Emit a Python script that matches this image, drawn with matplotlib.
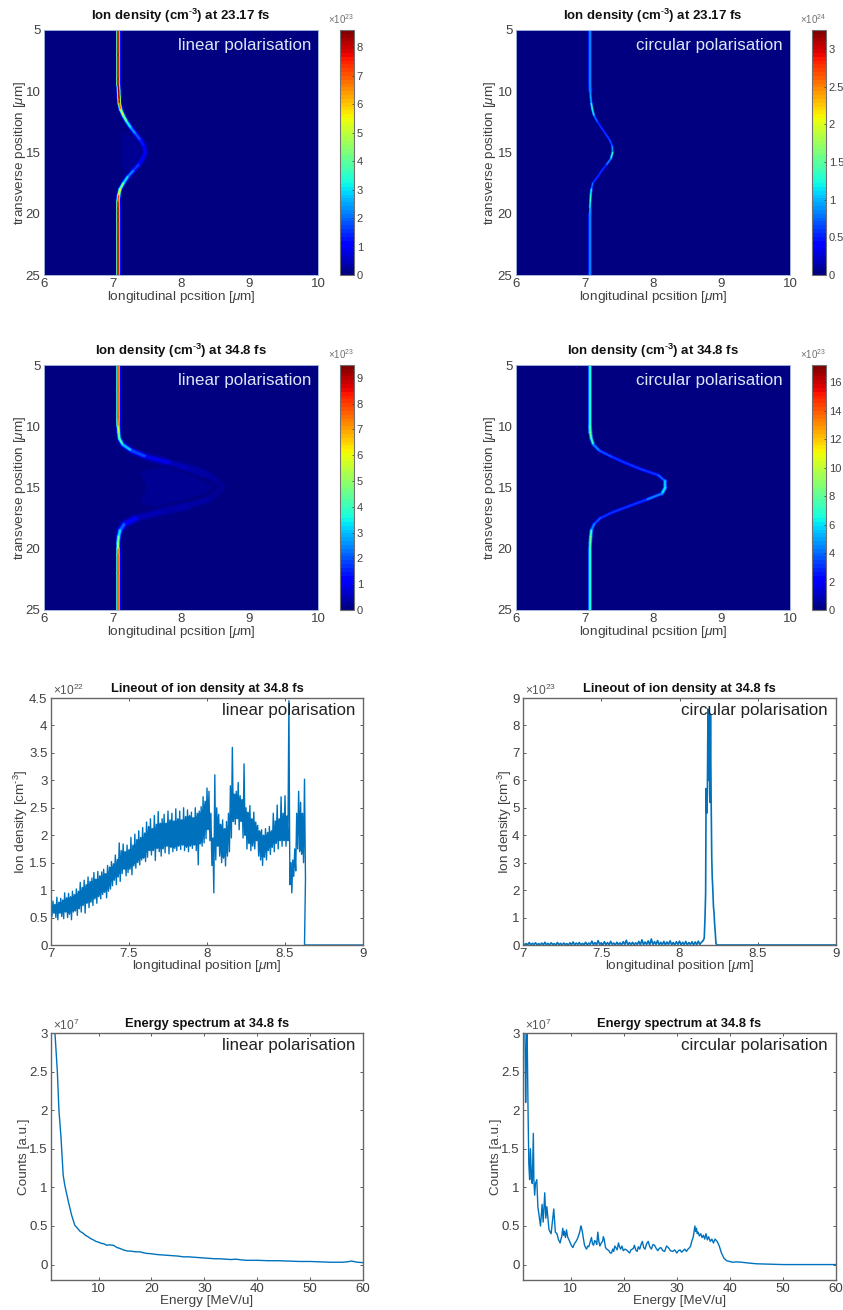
import numpy as np
import matplotlib
matplotlib.use("Agg")
import matplotlib.pyplot as plt
from matplotlib.cm import ScalarMappable
from matplotlib.collections import LineCollection
from matplotlib.colors import Normalize

plt.rcParams['font.family'] = ['Liberation Sans', 'DejaVu Sans']
plt.rcParams['mathtext.fontset'] = 'custom'
plt.rcParams['mathtext.rm'] = 'Liberation Sans'
plt.rcParams['mathtext.it'] = 'Liberation Sans:italic'
plt.rcParams['mathtext.bf'] = 'Liberation Sans:bold'

W, H = 843, 1310
DARK = '#404040'
BLUE = '#0072BD'

# ridge of the target in the density maps, transverse position in um
ridge_y = [5, 7, 9, 9.5, 10, 10.5, 11, 11.5, 12, 12.5, 13, 13.5, 14, 14.5, 15,
           15.5, 16, 16.5, 17, 17.5, 18, 18.5, 19, 19.5, 20, 20.5, 22, 25]

lin23_x = [7.085, 7.085, 7.085, 7.085, 7.09, 7.095, 7.10, 7.12, 7.16, 7.21, 7.27, 7.34, 7.41, 7.46, 7.48,
           7.44, 7.38, 7.30, 7.22, 7.16, 7.11, 7.09, 7.08, 7.08, 7.08, 7.08, 7.08, 7.08]
lin23_val = [8.2, 8.2, 8.2, 8.2, 8.2, 8.0, 6.8, 5.2, 4.4, 3.2, 2.4, 1.8, 1.3, 1.0, 0.95,
             1.1, 1.5, 2.2, 3.0, 4.4, 5.6, 7.0, 8.0, 8.2, 8.2, 8.2, 8.2, 8.2]
lin23_wid = [5, 5, 5, 5, 5, 5, 5, 5, 5, 5.5, 6, 6.5, 7, 7.5, 7.5,
             7.5, 7, 6, 5.5, 5, 5, 5, 5, 5, 5, 5, 5, 5]

lin35_x = [7.085, 7.085, 7.085, 7.085, 7.085, 7.09, 7.10, 7.15, 7.28, 7.50, 7.85, 8.15, 8.40, 8.52, 8.60,
           8.52, 8.40, 8.10, 7.70, 7.35, 7.17, 7.11, 7.09, 7.08, 7.08, 7.08, 7.08, 7.08]
lin35_val = [8, 8, 8, 7.5, 5.5, 4.8, 4.2, 3.0, 1.9, 1.0, 0.55, 0.42, 0.33, 0.28, 0.25,
             0.28, 0.33, 0.42, 0.55, 1.1, 2.2, 3.4, 4.6, 5.6, 7.5, 8, 8, 8]
lin35_wid = [5, 5, 5, 5, 5, 5, 5.5, 6.5, 8, 10, 12, 13, 14, 14, 14,
             14, 14, 13, 12, 10, 8, 6.5, 5.5, 5, 5, 5, 5, 5]

cir23_x = [7.08, 7.08, 7.08, 7.08, 7.085, 7.09, 7.10, 7.115, 7.14, 7.19, 7.25, 7.31, 7.37, 7.405, 7.41,
           7.385, 7.32, 7.25, 7.19, 7.12, 7.10, 7.09, 7.085, 7.08, 7.08, 7.08, 7.08, 7.08]
cir23_val = [0.85, 0.85, 0.85, 0.85, 0.9, 1.0, 1.3, 1.2, 0.8, 0.6, 0.6, 0.65, 0.7, 0.9, 1.3,
             0.9, 0.6, 0.6, 0.6, 0.8, 1.2, 1.3, 1.2, 1.0, 0.85, 0.85, 0.85, 0.85]
cir23_wid = [4, 4, 4, 4, 3, 2.5, 2.5, 2.5, 2.5, 2.5, 2.5, 2.5, 2.5, 2.5, 2.5,
             2.5, 2.5, 2.5, 2.5, 2.5, 2.5, 2.5, 2.5, 3, 4, 4, 4, 4]

cir35_x = [7.08, 7.08, 7.08, 7.08, 7.08, 7.085, 7.10, 7.13, 7.22, 7.40, 7.60, 7.82, 8.08, 8.18, 8.18,
           8.13, 7.90, 7.66, 7.42, 7.23, 7.14, 7.10, 7.09, 7.085, 7.08, 7.08, 7.08, 7.08]
cir35_val = [6.5, 6.5, 6.5, 6.5, 7.5, 8, 7, 4.5, 3.5, 3.2, 3.2, 3.2, 3.8, 5.5, 6,
             4.5, 3.2, 3, 3, 3.5, 4.5, 7, 8, 7.5, 6.5, 6.5, 6.5, 6.5]
cir35_wid = [4, 4, 4, 4, 4, 3.5, 3.5, 3.5, 3.5, 3.5, 3.5, 3.5, 3.5, 4, 4,
             3.5, 3.5, 3.5, 3.5, 3.5, 3.5, 3.5, 3.5, 3.5, 4, 4, 4, 4]

# faint cloud inside the bulge of the linear maps
cloud23_x = [7.15, 7.3, 7.42, 7.3, 7.15]
cloud23_y = [13.4, 13.7, 15, 16.3, 16.6]
cloud23_val = 0.2
cloud35_x = [7.5, 7.4, 7.85, 8.4, 8.55, 8.4, 7.85, 7.4]
cloud35_y = [15, 13.7, 13.2, 14, 15, 16, 16.8, 16.3]
cloud35_val = 0.25

# lineout, linear polarisation: upper and lower edge of the noisy band every 0.0125 um
lin_line_x0 = 7.0
lin_line_dx = 0.0125
lin_upper = [0.72, 0.80, 0.74, 0.87, 0.78, 0.85, 0.82, 0.95, 0.86, 0.94,
             0.88, 0.98, 0.92, 1.02, 0.98, 1.14, 1.05, 1.18, 1.10, 1.24,
             1.16, 1.22, 1.32, 1.20, 1.34, 1.26, 1.33, 1.38, 1.30, 1.45,
             1.42, 1.52, 1.48, 1.64, 1.56, 1.86, 1.72, 1.84, 1.70, 1.82,
             1.74, 1.96, 1.82, 2.02, 1.92, 2.08, 1.96, 2.14, 2.04, 2.24,
             2.16, 2.30, 2.12, 2.36, 2.20, 2.43, 2.22, 2.30, 2.38, 2.22,
             2.44, 2.28, 2.40, 2.26, 2.48, 2.30, 2.44, 2.28, 2.50, 2.34,
             2.46, 2.36, 2.42, 2.32, 2.50, 2.40, 2.44, 2.52, 2.70, 2.62,
             2.86, 2.80, 2.40, 1.95, 3.10, 2.50, 2.38, 2.20, 2.28, 2.12,
             2.25, 2.40, 2.90, 3.60, 2.75, 2.80, 2.96, 2.72, 2.65, 3.30,
             2.50, 2.42, 2.54, 2.30, 2.42, 2.24, 2.18, 2.08, 2.10, 2.00,
             2.12, 2.05, 2.16, 2.08, 2.40, 2.26, 2.55, 2.30, 2.70, 2.40,
             2.72, 2.35, 4.45, 1.50, 1.55, 1.75, 2.40, 2.80, 2.60, 2.40,
             3.02]
lin_lower = [0.52, 0.58, 0.50, 0.46, 0.58, 0.52, 0.48, 0.60, 0.50, 0.56,
             0.46, 0.60, 0.62, 0.54, 0.66, 0.60, 0.72, 0.58, 0.76, 0.68,
             0.78, 0.72, 0.84, 0.76, 0.88, 0.84, 0.92, 0.96, 0.86, 0.98,
             1.02, 1.08, 1.18, 1.10, 1.24, 1.16, 1.30, 1.38, 1.26, 1.32,
             1.38, 1.28, 1.44, 1.40, 1.50, 1.46, 1.55, 1.58, 1.52, 1.60,
             1.72, 1.64, 1.72, 1.54, 1.76, 1.70, 1.62, 1.75, 1.68, 1.80,
             1.66, 1.78, 1.70, 1.76, 1.72, 1.80, 1.74, 1.82, 1.72, 1.78,
             1.70, 1.80, 1.76, 1.82, 1.72, 1.46, 1.84, 1.80, 1.86, 1.94,
             2.10, 1.90, 1.45, 0.95, 1.55, 1.80, 1.62, 1.50, 1.58, 1.44,
             1.62, 1.70, 1.95, 2.25, 2.20, 2.30, 2.10, 2.25, 1.95, 2.00,
             1.75, 1.85, 1.72, 1.80, 1.75, 1.90, 1.62, 1.55, 1.45, 1.60,
             1.55, 1.72, 1.65, 1.78, 1.70, 1.85, 1.75, 1.90, 1.80, 1.90,
             1.80, 1.90, 1.10, 0.95, 1.25, 1.35, 1.75, 1.70, 1.65, 1.50,
             1.20]

# lineout, circular polarisation: low noisy floor every 0.01 um, then the peak
cir_floor_x0 = 7.0
cir_floor_dx = 0.01
cir_floor = [0.07, 0.00, 0.05, 0.01, 0.09, 0.00, 0.06, 0.02, 0.08, 0.00,
             0.05, 0.01, 0.07, 0.00, 0.10, 0.01, 0.06, 0.00, 0.08, 0.02,
             0.05, 0.00, 0.09, 0.01, 0.06, 0.00, 0.07, 0.02, 0.05, 0.00,
             0.08, 0.01, 0.11, 0.00, 0.07, 0.02, 0.09, 0.00, 0.06, 0.01,
             0.10, 0.00, 0.07, 0.02, 0.14, 0.01, 0.09, 0.00, 0.16, 0.02,
             0.08, 0.00, 0.12, 0.01, 0.09, 0.00, 0.13, 0.02, 0.07, 0.00,
             0.10, 0.01, 0.08, 0.00, 0.12, 0.02, 0.17, 0.00, 0.09, 0.01,
             0.10, 0.00, 0.08, 0.02, 0.13, 0.00, 0.19, 0.01, 0.11, 0.02,
             0.15, 0.00, 0.22, 0.01, 0.12, 0.02, 0.16, 0.00, 0.10, 0.01,
             0.13, 0.00, 0.11, 0.02, 0.15, 0.01, 0.09, 0.00, 0.12, 0.02,
             0.14, 0.00, 0.10, 0.01, 0.13, 0.00, 0.09, 0.02, 0.12, 0.00,
             0.11, 0.01, 0.14, 0.02, 0.10]
cir_peak_x = [8.150, 8.158, 8.163, 8.167, 8.170, 8.174, 8.178, 8.182, 8.186, 8.190, 8.194, 8.198,
              8.202, 8.206, 8.209, 8.213, 8.217, 8.221, 8.224, 8.228, 8.233, 8.24, 9.0]
cir_peak_y = [0.15, 0.25, 1.0, 1.9, 5.7, 4.8, 5.5, 8.6, 6.0, 8.5, 5.2, 8.4,
              5.4, 3.2, 2.5, 2.0, 1.4, 1.15, 0.8, 0.5, 0.05, 0.0, 0.0]

# energy spectra
lin_spec_e = [1.4, 1.55, 1.75, 2.2, 2.5, 2.9, 3.3, 3.6, 4.3, 4.9, 5.5, 6.0, 6.5, 7.0, 7.5, 8.0, 8.4, 9.0, 9.5, 10,
              10.5, 11, 11.5, 12, 12.8, 13.5, 14, 14.7, 15.5, 16, 17, 17.8, 19, 20, 21, 22, 23, 24, 25, 26,
              27, 28, 29, 30, 32, 33, 34, 35, 36, 37, 38, 40, 42, 44, 46, 48, 50, 52, 54, 56, 57, 57.8, 59, 60]
lin_spec_c = [3.4, 3.2, 3.0, 2.5, 2.0, 1.64, 1.16, 1.03, 0.81, 0.64, 0.51, 0.47, 0.43, 0.41, 0.38, 0.36, 0.34, 0.32, 0.30, 0.29,
              0.275, 0.27, 0.25, 0.255, 0.25, 0.22, 0.21, 0.19, 0.175, 0.175, 0.165, 0.165, 0.145, 0.14, 0.13, 0.125, 0.12, 0.115, 0.11, 0.10,
              0.10, 0.095, 0.09, 0.085, 0.075, 0.075, 0.07, 0.065, 0.07, 0.06, 0.055, 0.055, 0.05, 0.05, 0.045, 0.04, 0.04, 0.035, 0.03, 0.03, 0.035, 0.045, 0.03, 0.025]

cir_spec_e = [1.0, 1.3, 1.5, 1.6, 1.75, 1.85, 1.95, 2.1, 2.25, 2.4, 2.6, 2.75, 2.95, 3.05, 3.2, 3.35, 3.6, 3.8, 4.1, 4.3,
              4.6, 4.8, 5.1, 5.3, 5.5, 5.9, 6.3, 6.8, 7.1, 7.4, 7.7, 8.0, 8.15, 8.3, 8.5, 8.65, 8.8, 9.0, 9.2, 9.4, 9.6, 9.8, 10.1, 10.4, 10.7, 11, 11.3, 11.6, 11.75, 11.9,
              12.05, 12.2, 12.4, 12.6, 12.8, 13.0, 13.2, 13.4, 13.65, 13.9, 14.1, 14.3, 14.5, 14.7, 14.9, 15.1, 15.3, 15.5, 15.75, 16.0, 16.15, 16.3, 16.55, 16.8, 17.0, 17.2, 17.45, 17.7, 17.9, 18.1, 18.3, 18.5, 18.75, 19.0, 19.2, 19.4, 19.65, 19.9, 20.2, 20.5, 20.8, 21.1, 21.35, 21.6, 21.8, 22.0, 22.25, 22.5, 22.75, 23.0, 23.25, 23.5, 23.75, 24.0, 24.3, 24.6, 24.9, 25.2, 25.5, 25.8, 26.1, 26.4,
              26.7, 27.0, 27.35, 27.7, 28.05, 28.4, 28.8, 29.2, 29.6, 30.0, 30.3, 30.6, 30.9, 31.2, 31.5, 31.8, 32.1, 32.4, 32.6, 32.8, 33.1, 33.4, 33.55, 33.7, 33.85, 34.0, 34.25, 34.5, 34.75, 35.0, 35.25, 35.5, 35.75, 36.0, 36.3, 36.6, 36.9, 37.2, 37.6, 38.0, 38.4, 38.9, 39.4, 40.5, 41.3, 42.2, 43.5, 45, 47.5, 50, 60]
cir_spec_c = [3.4, 3.4, 2.1, 2.6, 3.2, 2.6, 2.0, 1.3, 1.1, 1.5, 1.1, 1.05, 1.7, 1.1, 0.9, 1.05, 1.1, 0.75, 0.6, 0.5,
              0.78, 0.55, 0.93, 0.6, 0.75, 0.45, 0.4, 0.72, 0.42, 0.4, 0.32, 0.28, 0.33, 0.36, 0.47, 0.38, 0.43, 0.35, 0.45, 0.36, 0.33, 0.3, 0.25, 0.22, 0.27, 0.3, 0.34, 0.4, 0.44, 0.5,
              0.47, 0.42, 0.33, 0.25, 0.22, 0.2, 0.24, 0.23, 0.29, 0.35, 0.27, 0.25, 0.31, 0.3, 0.26, 0.42, 0.3, 0.24, 0.28, 0.3, 0.36, 0.33, 0.22, 0.2, 0.19, 0.18, 0.15, 0.15, 0.2, 0.17, 0.24, 0.22, 0.19, 0.28, 0.23, 0.2, 0.24, 0.18, 0.2, 0.19, 0.17, 0.15, 0.19, 0.2, 0.21, 0.25, 0.19, 0.17, 0.23, 0.2, 0.26, 0.3, 0.22, 0.2, 0.27, 0.3, 0.23, 0.2, 0.26, 0.25, 0.21, 0.18,
              0.21, 0.22, 0.18, 0.17, 0.24, 0.22, 0.18, 0.17, 0.19, 0.15, 0.18, 0.19, 0.16, 0.18, 0.2, 0.17, 0.2, 0.22, 0.24, 0.3, 0.36, 0.5, 0.43, 0.47, 0.4, 0.42, 0.37, 0.4, 0.35, 0.38, 0.33, 0.4, 0.32, 0.36, 0.3, 0.33, 0.28, 0.33, 0.3, 0.24, 0.15, 0.08, 0.05, 0.03, 0.035, 0.03, 0.02, 0.01, 0.005, 0.0, 0.0]

# titles and labels
time_early = '23.17'
time_late = '34.8'
label_linear = 'linear polarisation'
label_circular = 'circular polarisation'

cmap = plt.get_cmap('jet', 64)


def axes_px(fig, left, top, right, bottom):
    return fig.add_axes([left / W, 1 - bottom / H, (right - left) / W, (bottom - top) / H])


def style_box(ax):
    for s in ax.spines.values():
        s.set_linewidth(1.0)
        s.set_color('#666666')
    ax.tick_params(direction='in', top=True, right=True, length=2.5, width=0.6,
                   labelsize=9.5, colors=DARK, pad=2.5)


def density_map(fig, box, cbar_x, x, val, wid, layers, vmax, cticks, exponent, time, label, ylab_px, cloud=None):
    left, top, right, bottom = box
    ax = axes_px(fig, left, top, right, bottom)
    norm = Normalize(0, vmax)
    ax.set_facecolor(cmap(0))

    if cloud is not None:
        ax.fill(cloud[0], cloud[1], color=cmap(norm(cloud[2])), lw=0)

    pts = np.column_stack([x, ridge_y])
    segs = np.stack([pts[:-1], pts[1:]], axis=1)
    val = np.array(val)
    wid = np.array(wid)
    for frac, rel in layers:
        lc = LineCollection(segs, cmap=cmap, norm=norm, capstyle='round',
                            linewidths=wid[:-1] * rel * 0.72)
        lc.set_array(val[:-1] * frac)
        ax.add_collection(lc)

    ax.set_xlim(6, 10)
    ax.set_ylim(25, 5)
    ax.set_xticks([6, 7, 8, 9, 10])
    ax.set_yticks([5, 10, 15, 20, 25])
    for s in ax.spines.values():
        s.set_linewidth(0.7)
        s.set_color('#9fb2d8')
    ax.tick_params(direction='in', length=0, labelsize=9.5, labelcolor=DARK, pad=2.5)
    ax.set_title(r'Ion density (cm$^{\mathbf{\text{-}3}}$) at %s fs' % time,
                 fontsize=9.5, fontweight='bold', pad=7, color='#111111')
    ax.set_xlabel(r'longitudinal pcsition [$\mu$m]', fontsize=9.7, color=DARK, labelpad=-1)
    ax.set_ylabel(r'transverse position [$\mu$m]', fontsize=9.7, color=DARK, va='center')
    ax.yaxis.set_label_coords((ylab_px - left) / (right - left), 0.5)
    ax.text(0.974, 0.938, label, transform=ax.transAxes, ha='right', va='center',
            fontsize=12.2, color='#dde6f4')

    cax = axes_px(fig, cbar_x, top, cbar_x + 14, bottom)
    cb = fig.colorbar(ScalarMappable(norm=norm, cmap=cmap), cax=cax)
    cb.set_ticks(cticks)
    cb.set_ticklabels(['%g' % t for t in cticks])
    cb.outline.set_edgecolor('#707070')
    cb.outline.set_linewidth(0.8)
    cax.tick_params(direction='in', length=1.5, width=0.5, color='#303030',
                    labelsize=8, labelcolor=DARK, pad=2)
    cax.text(1.0, 1.015, r'$\times$10$^{%d}$' % exponent, transform=cax.transAxes,
             ha='right', va='bottom', fontsize=7, color='#707070')
    return ax


def line_panel(fig, box, x, y, xlim, ylim, xticks, yticks, exponent, title, title_size, xlabel, ylabel, label,
               ylab_px, lw=1.0, xpad=-1.5):
    left, top, right, bottom = box
    ax = axes_px(fig, left, top, right, bottom)
    ax.plot(x, y, color=BLUE, lw=lw)
    ax.set_xlim(*xlim)
    ax.set_ylim(*ylim)
    ax.set_xticks(xticks)
    ax.set_xticklabels(['%g' % t for t in xticks])
    ax.set_yticks(yticks)
    ax.set_yticklabels(['%g' % t for t in yticks])
    style_box(ax)
    ax.set_title(title, fontsize=title_size, fontweight='bold', pad=4.5, color='#111111')
    ax.set_xlabel(xlabel, fontsize=9.7, color=DARK, labelpad=xpad)
    ax.set_ylabel(ylabel, fontsize=9.7, color=DARK, va='center')
    ax.yaxis.set_label_coords((ylab_px - left) / (right - left), 0.5)
    ax.text(0.974, 0.95, label, transform=ax.transAxes, ha='right', va='center',
            fontsize=12.2, color='#222222')
    ax.text(0.005, 1.0, r'$\times$10$^{%d}$' % exponent, transform=ax.transAxes,
            ha='left', va='bottom', fontsize=8.6, color='#555555')
    return ax


def main():
    fig = plt.figure(figsize=(W / 100, H / 100), dpi=100)

    linear_layers = [(0.15, 1.0), (0.42, 0.72), (0.72, 0.5), (1.0, 0.3)]
    circular_layers = [(0.6, 1.0), (1.0, 0.5)]

    density_map(fig, (44, 30, 318, 275), 340, lin23_x, lin23_val, lin23_wid, linear_layers,
                8.6, list(range(9)), 23, time_early, label_linear, 20,
                cloud=(cloud23_x, cloud23_y, cloud23_val))
    density_map(fig, (516, 30, 790, 275), 812, cir23_x, cir23_val, cir23_wid, circular_layers,
                3.25, [0, 0.5, 1, 1.5, 2, 2.5, 3], 24, time_early, label_circular, 490)
    density_map(fig, (44, 365, 318, 610), 340, lin35_x, lin35_val, lin35_wid, linear_layers,
                9.5, list(range(10)), 23, time_late, label_linear, 20,
                cloud=(cloud35_x, cloud35_y, cloud35_val))
    density_map(fig, (516, 365, 790, 610), 812, cir35_x, cir35_val, cir35_wid, circular_layers,
                17.2, list(range(0, 17, 2)), 23, time_late, label_circular, 490)

    # noisy band drawn as a line going up and down between its two edges
    up = np.array(lin_upper)
    low = np.array(lin_lower)
    st = lin_line_x0 + lin_line_dx * np.arange(len(up))
    band_x = np.column_stack([st, st + lin_line_dx / 2]).ravel()
    band_y = np.column_stack([up, low]).ravel()
    lin_x = np.concatenate([band_x, [st[-1], 9.0]])
    lin_y = np.concatenate([band_y, [0.0, 0.0]])

    cir_x = np.concatenate([cir_floor_x0 + cir_floor_dx * np.arange(len(cir_floor)), cir_peak_x])
    cir_y = np.concatenate([cir_floor, cir_peak_y])

    line_title = 'Lineout of ion density at %s fs' % time_late
    spec_title = 'Energy spectrum at %s fs' % time_late
    xl = r'longitudinal position [$\mu$m]'
    yl = r'Ion density [cm$^{\text{-}3}$]'
    xt = [7, 7.5, 8, 8.5, 9]
    ax = line_panel(fig, (51, 698, 363, 945), lin_x, lin_y, (7, 9), (0, 4.5), xt,
                    [0, 0.5, 1, 1.5, 2, 2.5, 3, 3.5, 4, 4.5], 22, line_title, 9.3, xl, yl, label_linear, 21, lw=1.0)
    # the gaps between the strokes are filled, only the spikes stand out
    top = np.minimum(np.minimum(up, np.roll(up, 1)), np.roll(up, -1))
    bot = np.maximum(np.maximum(low, np.roll(low, 1)), np.roll(low, -1))
    ax.fill_between(st + lin_line_dx / 4, bot, top, where=top > bot, color=BLUE, lw=0)
    line_panel(fig, (523, 698, 836, 945), cir_x, cir_y, (7, 9), (0, 9), xt,
               list(range(10)), 23, line_title, 9.3, xl, yl, label_circular, 505, lw=1.2)

    et = [10, 20, 30, 40, 50, 60]
    ct = [0, 0.5, 1, 1.5, 2, 2.5, 3]
    line_panel(fig, (51, 1033, 363, 1280), lin_spec_e, lin_spec_c, (1, 60), (-0.2, 3), et, ct, 7,
               spec_title, 9.3, 'Energy [MeV/u]', 'Counts [a.u.]', label_linear, 24, xpad=0)
    line_panel(fig, (523, 1033, 836, 1280), cir_spec_e, cir_spec_c, (1, 60), (-0.2, 3), et, ct, 7,
               spec_title, 9.3, 'Energy [MeV/u]', 'Counts [a.u.]', label_circular, 496, xpad=0)

    fig.savefig('out.png', dpi=100)


if __name__ == "__main__":
    main()
